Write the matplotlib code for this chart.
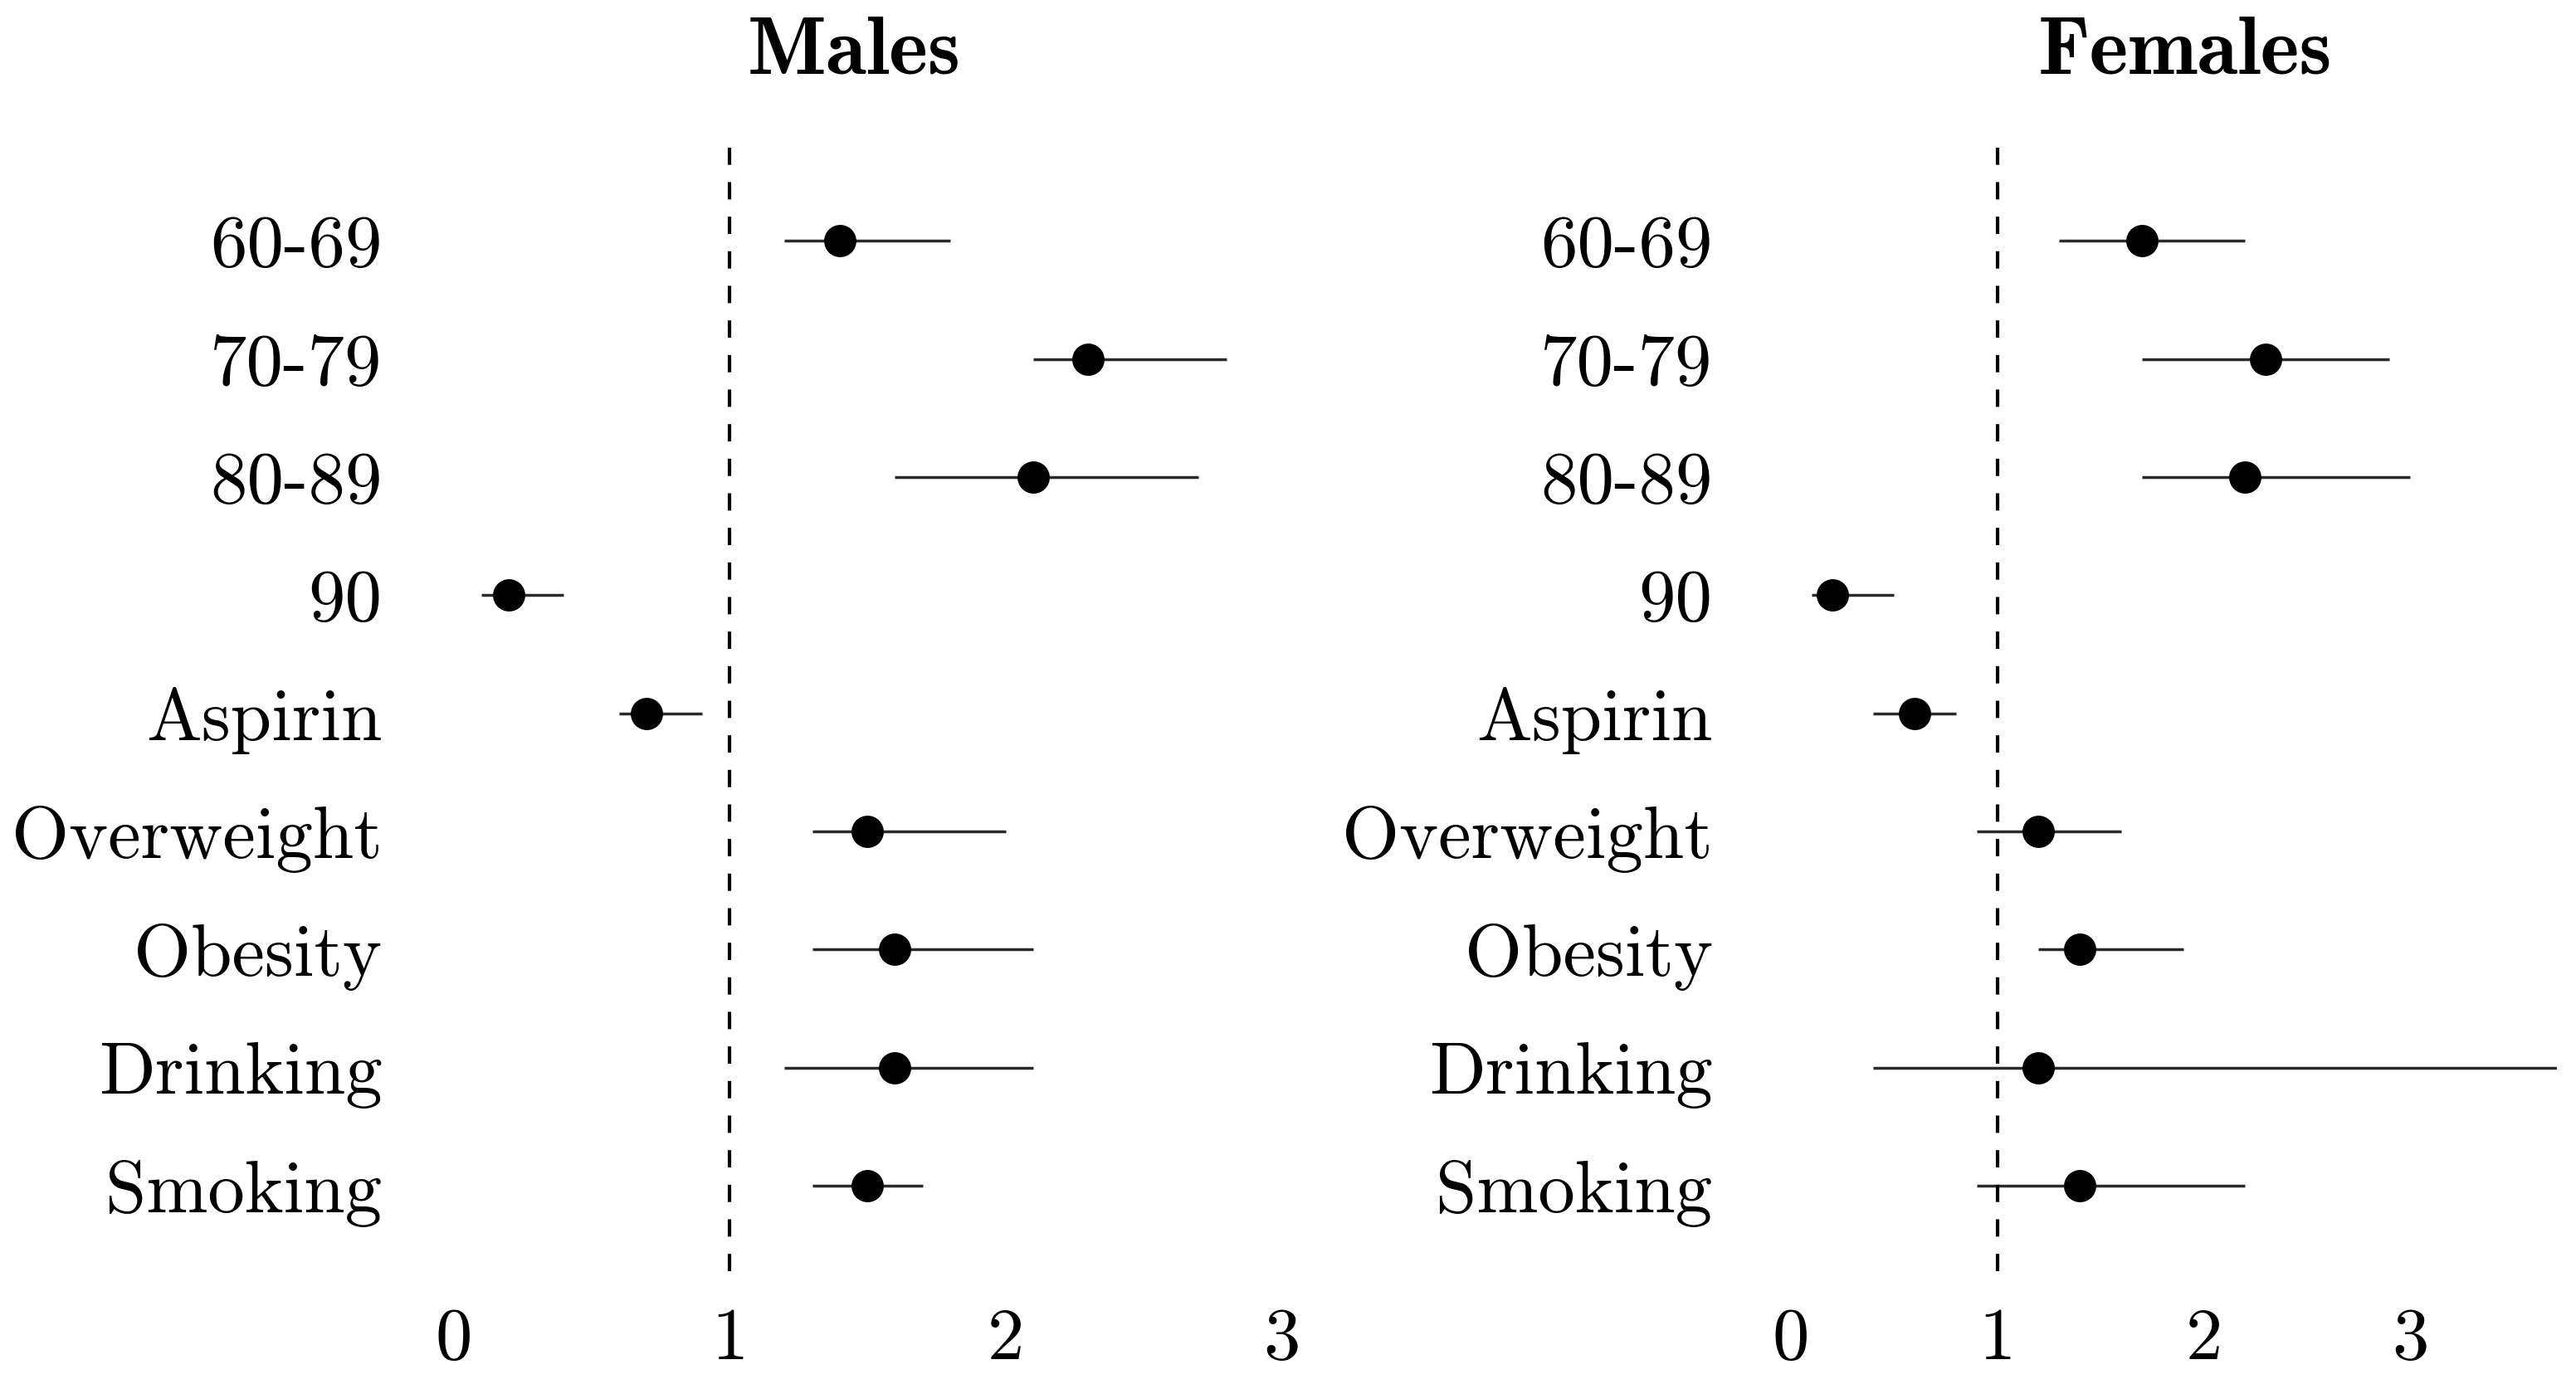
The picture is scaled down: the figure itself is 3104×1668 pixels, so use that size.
import matplotlib
matplotlib.use("Agg")
import matplotlib.pyplot as plt

# ---- data ----
labels = ["60-69", "70-79", "80-89", "90", "Aspirin",
          "Overweight", "Obesity", "Drinking", "Smoking"]

male_est = [1.4, 2.3, 2.1, 0.2, 0.7, 1.5, 1.6, 1.6, 1.5]
male_lo = [1.2, 2.1, 1.6, 0.1, 0.6, 1.3, 1.3, 1.2, 1.3]
male_hi = [1.8, 2.8, 2.7, 0.4, 0.9, 2.0, 2.1, 2.1, 1.7]

female_est = [1.7, 2.3, 2.2, 0.2, 0.6, 1.2, 1.4, 1.2, 1.4]
female_lo = [1.3, 1.7, 1.7, 0.1, 0.4, 0.9, 1.2, 0.4, 0.9]
female_hi = [2.2, 2.9, 3.0, 0.5, 0.8, 1.6, 1.9, 4.5, 2.2]

xticks = [0, 1, 2, 3]

# ---- layout (reference pixels, half scale 1568 x 844) ----
W, H = 1568.0, 844.0
FONT = "cmr10"
FONT_B = "cmb10"
FS = 32

fig = plt.figure(figsize=(15.52, 8.34), dpi=200)


def panel(x0_px, unit_px, xmin, xmax, est, lo, hi, pad):
    left = (x0_px + xmin * unit_px) / W
    width = (xmax - xmin) * unit_px / W
    bottom = 1 - 775 / H
    height = (775 - 90) / H
    ax = fig.add_axes([left, bottom, width, height])
    y = list(range(len(labels)))
    for yi, l, h in zip(y, lo, hi):
        ax.plot([l, h], [yi, yi], color="#2a2a2a", lw=1.25, solid_capstyle="butt")
    ax.plot(est, y, "o", color="black", ms=13)
    ax.axvline(1, color="black", lw=1.5, linestyle=(0, (5, 5)))
    ax.set_xlim(xmin, xmax)
    ax.set_ylim(8.72, -0.79)
    ax.set_yticks(y)
    ax.set_yticklabels(labels, fontfamily=FONT, fontsize=FS)
    ax.set_xticks(xticks)
    ax.set_xticklabels([str(t) for t in xticks], fontfamily=FONT, fontsize=FS)
    ax.tick_params(axis="y", length=0, pad=pad)
    ax.tick_params(axis="x", length=0, pad=16)
    for s in ax.spines.values():
        s.set_visible(False)
    return ax


ax_m = panel(276, 168, -0.1, 3.15, male_est, male_lo, male_hi, pad=19)
ax_f = panel(1090, 125.7, -0.2, 3.71, female_est, female_lo, female_hi, pad=16)

fig.text(520 / W, 1 - 32 / H, "Males", ha="center", va="center",
         fontfamily=FONT_B, fontsize=36)
fig.text(1330 / W, 1 - 32 / H, "Females", ha="center", va="center",
         fontfamily=FONT_B, fontsize=36)

fig.savefig("out.png", dpi=200, facecolor="white")
